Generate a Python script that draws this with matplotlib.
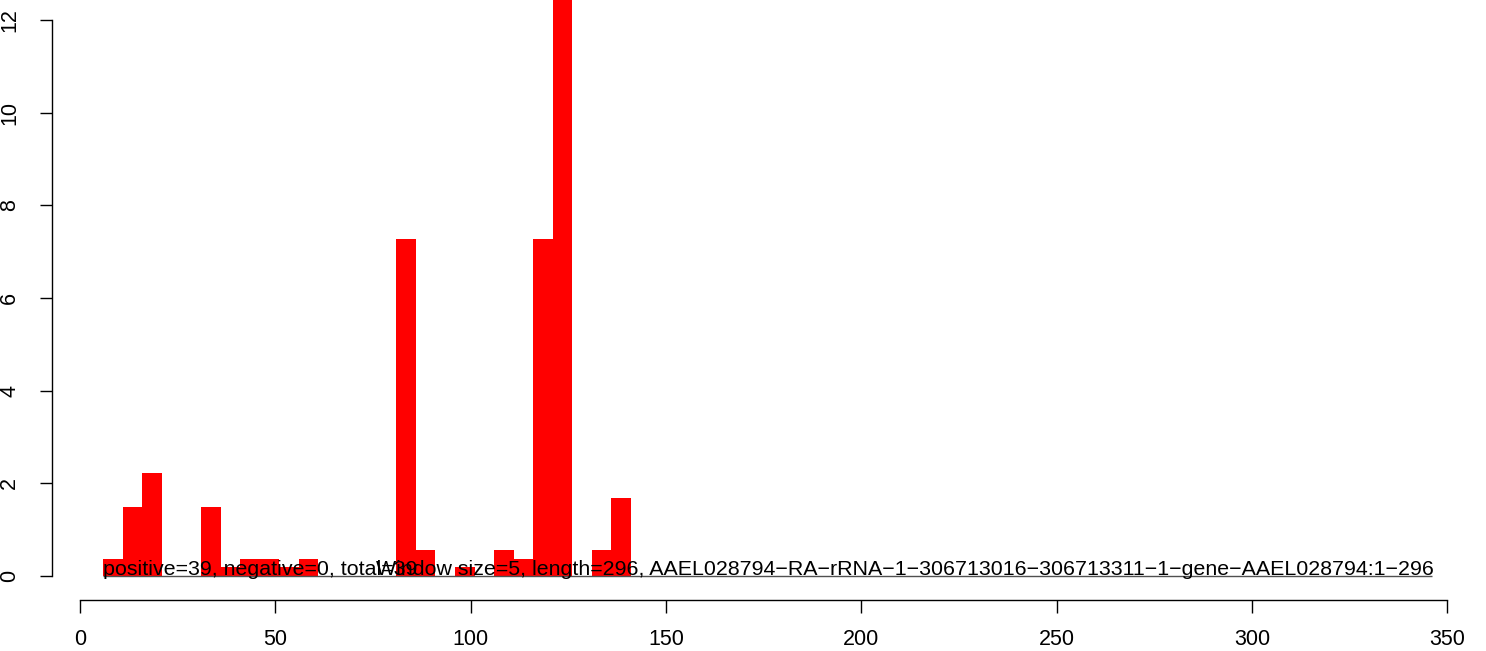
import matplotlib
matplotlib.use("Agg")
import matplotlib.pyplot as plt

plt.rcParams['font.family'] = ['Liberation Sans', 'DejaVu Sans']

# window starts (window size 5) and heights
bin_starts = [6, 11, 16, 21, 26, 31, 36, 41, 46, 51, 56, 61, 66, 71, 76,
              81, 86, 91, 96, 101, 106, 111, 116, 121, 126, 131, 136]
heights = [0.37, 1.48, 2.22, 0, 0, 1.48, 0.19, 0.37, 0.37, 0.19, 0.37, 0, 0, 0, 0,
           7.27, 0.56, 0, 0.19, 0, 0.56, 0.37, 7.27, 13.5, 0, 0.56, 1.68]
window = 5

x_ticks = [0, 50, 100, 150, 200, 250, 300, 350]
y_ticks = [0, 2, 4, 6, 8, 10, 12]

label_left = "positive=39, negative=0, total=39"
label_right = ("Window size=5, length=296, "
               "AAEL028794\u2212RA\u2212rRNA\u22121\u2212306713016\u2212306713311"
               "\u22121\u2212gene\u2212AAEL028794:1\u2212296")

W, H = 1486, 651
fig = plt.figure(figsize=(W / 100, H / 100), dpi=100)
ax = fig.add_axes([52 / W, 51 / H, (1460 - 52) / W, 600 / H])

ax.bar(bin_starts, heights, width=window, align='edge', color='#ff0000',
       edgecolor='none', linewidth=0)

ax.set_xlim(-28 / 3.906, 1380 / 3.906)
ax.set_ylim(-24 / 46.33, 576 / 46.33)

for s in ['top', 'right']:
    ax.spines[s].set_visible(False)
ax.spines['left'].set_bounds(0, 12)
ax.spines['bottom'].set_bounds(0, 350)
for s in ['left', 'bottom']:
    ax.spines[s].set_linewidth(1.0)

ax.set_xticks(x_ticks)
ax.set_yticks(y_ticks)
ax.set_yticklabels([str(v) for v in y_ticks], rotation=90, va='center')
ax.tick_params(direction='out', length=9, width=1.0, labelsize=15.5)
ax.tick_params(axis='x', pad=12)
ax.tick_params(axis='y', pad=14)

# baseline line under the annotation
ax.plot([5.9, 346.2], [0, 0], color='#505050', lw=1.0, solid_capstyle='butt')

ax.text(5.9, 0.02, label_left, fontsize=15.4, ha='left', va='baseline')
ax.text(75.8, 0.02, label_right, fontsize=15.4, ha='left', va='baseline')

fig.savefig("out.png", dpi=100)
